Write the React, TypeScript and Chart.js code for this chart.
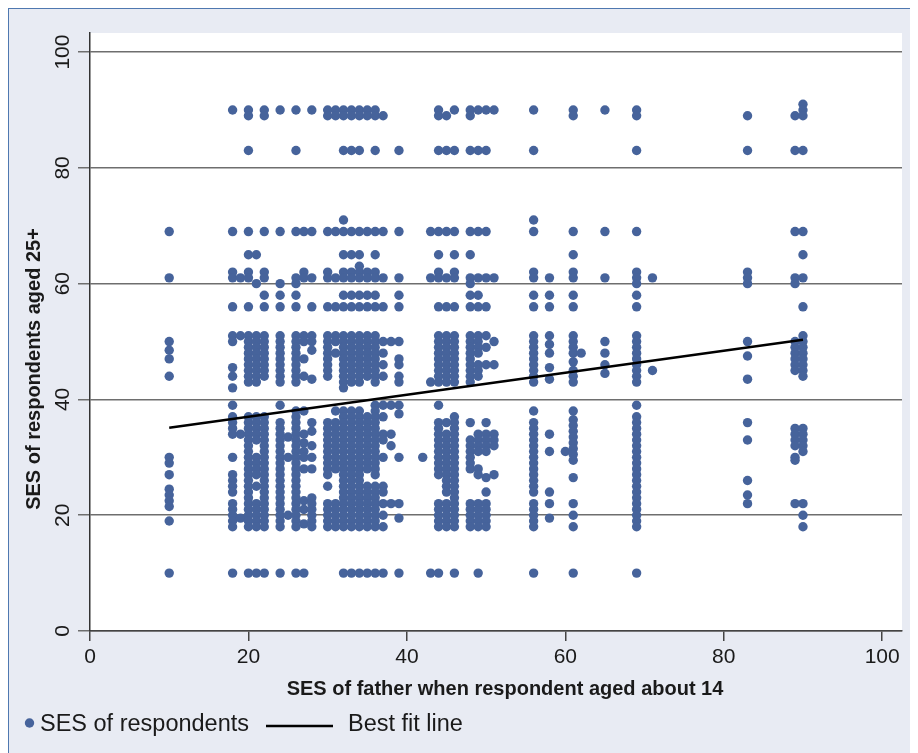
import React, { useEffect, useRef } from "react";
import { Chart, registerables } from "chart.js";

Chart.register(...registerables);

// ---- data ----
const xTicks = [0, 20, 40, 60, 80, 100];
const yTicks = [0, 20, 40, 60, 80, 100];

const xTitle = "SES of father when respondent aged about 14";
const yTitle = "SES of respondents aged 25+";
const legendLabels = ["SES of respondents", "Best fit line"];

// father's SES (x) for each column of points
const fatherSES = [10, 18, 19, 20, 21, 22, 24, 25, 26, 27, 28, 30, 31, 32, 33, 34, 35, 36, 37, 38, 39, 42, 43, 44, 45, 46, 48, 49, 50, 51, 56, 58, 60, 61, 62, 65, 69, 71, 83, 89, 90];

// respondent's SES (y) values observed in each column
const respondentSES = [
  [69, 61, 50, 48.5, 47, 44, 30, 29, 27, 24.5, 23.5, 22.5, 21.5, 19, 10],
  [90, 69, 62, 61, 56, 51, 50, 45.5, 44, 42, 39, 37, 36, 35, 34, 30, 27, 26, 25, 24, 22, 21, 20, 19, 18, 10],
  [61, 51, 34, 19.5],
  [90, 89, 83, 69, 65, 62, 61, 56, 51, 50, 49, 48, 47, 46, 45, 44, 43, 37, 36, 35, 34, 33, 32, 31, 30, 29, 28, 27, 26, 25, 24, 23, 22, 21, 20, 19, 18, 10],
  [65, 60, 51, 50, 49, 48, 47, 46, 45, 44, 43, 37, 36, 35, 34, 33, 30, 29, 28, 27, 25, 22, 21, 20, 19, 18, 10],
  [90, 89, 69, 62, 61, 58, 56, 51, 50, 49, 48, 47, 46, 45, 44, 37, 36, 35, 34, 33, 32, 31, 30, 29, 28, 27, 26, 25, 24, 23, 22, 21, 20, 19, 18, 10],
  [90, 69, 60, 58, 56, 51, 50, 49, 48, 47, 46, 45, 44, 43, 39, 36, 35, 34, 33, 32, 31, 30, 29, 28, 27, 26, 25, 24, 23, 22, 21, 20, 19, 18, 10],
  [33.5, 30, 20],
  [90, 83, 69, 61, 60, 58, 56, 51, 50, 49, 48, 47, 46, 45, 44, 43, 38, 37, 36, 35, 34, 33, 32, 31, 30, 29, 28, 27, 26, 25, 24, 23, 22, 21, 20, 19, 18, 10],
  [69, 62, 61, 51, 50, 47, 44, 38, 34, 32.5, 31, 30, 28, 22.5, 21, 18.5, 10],
  [90, 69, 61, 56, 51, 50, 48.5, 43.5, 36, 34.5, 32, 30, 28, 23, 22, 21, 20, 19, 18],
  [90, 89, 69, 62, 61, 56, 51, 50, 49, 48, 47, 46, 45, 44, 36, 35, 34, 33, 32, 31, 30, 29, 28, 27, 25, 22, 21, 20, 19, 18],
  [90, 89, 69, 61, 56, 51, 50, 48, 38, 36, 35, 34, 33, 32, 31, 30, 29, 28, 22, 21, 20, 19, 18],
  [90, 89, 83, 71, 69, 65, 62, 61, 58, 56, 51, 50, 49, 48, 47, 46, 45, 44, 43, 42, 38, 37, 36, 35, 34, 33, 32, 31, 30, 29, 28, 27, 26, 25, 24, 23, 22, 21, 20, 19, 18, 10],
  [90, 89, 83, 69, 65, 62, 61, 58, 56, 51, 50, 49, 48, 47, 46, 45, 44, 43, 38, 37, 36, 35, 34, 33, 32, 31, 30, 29, 28, 27, 26, 25, 24, 23, 22, 21, 20, 19, 18, 10],
  [90, 89, 83, 69, 65, 63, 62, 61, 58, 56, 51, 50, 49, 48, 47, 46, 45, 44, 43, 38, 37, 36, 35, 34, 33, 32, 31, 30, 29, 28, 27, 26, 25, 24, 23, 22, 21, 20, 19, 18, 10],
  [90, 89, 69, 62, 61, 58, 56, 51, 50, 49, 48, 47, 46, 45, 44, 37, 36, 35, 34, 33, 32, 31, 30, 29, 28, 25, 24, 23, 22, 21, 20, 19, 18, 10],
  [90, 89, 83, 69, 65, 62, 61, 58, 56, 51, 50, 49, 48, 47, 46, 45, 44, 43, 39, 38, 37, 36, 35, 34, 33, 32, 31, 30, 29, 28, 27, 25, 24, 23, 22, 21, 20, 19, 18, 10],
  [89, 69, 61, 56, 50, 48, 46, 44, 39, 37, 34, 33, 30, 25, 24, 22, 20, 18, 10],
  [50, 39, 34, 32, 22],
  [83, 69, 61, 58, 56, 50, 47, 46, 44, 43, 39, 37.5, 30, 22, 19.5, 10],
  [30],
  [69, 61, 43, 10],
  [90, 89, 83, 69, 65, 62, 61, 56, 51, 50, 49, 48, 47, 46, 45, 44, 43, 39, 36, 35, 34, 33, 32, 31, 30, 29, 28, 27, 22, 21, 20, 19, 18, 10],
  [89, 83, 69, 61, 56, 51, 50, 49, 48, 47, 46, 45, 44, 43, 36, 34, 33, 32, 31, 30, 29, 28, 27, 26, 25, 24, 22, 21, 20, 19, 18],
  [90, 83, 69, 65, 62, 61, 56, 51, 50, 49, 48, 47, 46, 45, 44, 43, 37, 36, 35, 34, 33, 32, 31, 30, 29, 28, 27, 26, 25, 24, 23, 22, 21, 20, 19, 18, 10],
  [90, 89, 83, 69, 65, 61, 60, 58, 56, 51, 50, 49, 48, 47, 46, 45, 44, 43, 36, 33, 32, 31, 30, 29, 28, 22, 21, 20, 19, 18],
  [90, 83, 69, 61, 58, 56, 51, 50, 49, 48, 46, 45, 44, 34, 33, 32, 31, 28, 27, 22, 21, 20, 19, 18, 10],
  [90, 83, 69, 61, 56, 51, 49, 46, 36, 34, 33, 32, 31, 26.5, 24, 22, 21, 20, 19, 18],
  [90, 61, 50, 46, 34, 33, 32, 27],
  [90, 83, 71, 69, 62, 61, 58, 56, 51, 50, 49, 48, 47, 46, 45, 44, 43, 38, 36, 35, 34, 33, 32, 31, 30, 29, 28, 27, 26, 25, 24, 22, 21, 20, 19, 18, 10],
  [61, 58, 56, 51, 49.5, 48, 45.5, 43.5, 34, 31, 24, 22, 19.5],
  [31],
  [90, 89, 69, 65, 62, 61, 58, 56, 51, 50, 49, 48, 46.5, 45, 44, 43, 38, 36.5, 35.5, 34.5, 33.5, 32.5, 31.5, 30.5, 29.5, 26.5, 22, 20, 18, 10],
  [48],
  [90, 69, 61, 50, 48, 46, 44.5],
  [90, 89, 83, 69, 62, 61, 60, 58, 56, 51, 50, 49, 48, 47, 46, 45, 44, 43, 39, 37, 36, 35, 34, 33, 32, 31, 30, 29, 28, 27, 26, 25, 24, 23, 22, 21, 20, 19, 18, 10],
  [61, 45],
  [89, 83, 62, 61, 60, 50, 47.5, 43.5, 36, 33, 26, 23.5, 22],
  [89, 83, 69, 61, 60, 50, 49, 48, 47, 46, 45, 35, 34, 33, 32, 30, 29.5, 22],
  [91, 90, 89, 83, 69, 65, 61, 56, 51, 50, 49, 48, 47, 46, 45, 44, 35, 34, 33, 32, 31, 22, 20, 18],
];

// best fit line end points
const fitX = [10, 90];
const fitY = [35.1, 50.3];

// ---- styles ----
const FONT = "'Liberation Sans', Arial, sans-serif";
const POINT_COLOR = "#46639b";
const TEXT_COLOR = "#1a1a1a";

const decorPlugin = {
  id: "decor",
  beforeDraw(chart: any) {
    const { ctx, chartArea: a } = chart;
    ctx.save();
    ctx.fillStyle = "#ffffff";
    ctx.fillRect(a.left, a.top, a.right - a.left, a.bottom - a.top);
    ctx.restore();
  },
  afterDraw(chart: any) {
    const { ctx } = chart;
    ctx.save();
    ctx.fillStyle = TEXT_COLOR;
    // x title
    ctx.font = `bold 20px ${FONT}`;
    ctx.textAlign = "center";
    ctx.textBaseline = "alphabetic";
    ctx.fillText(xTitle, 496, 686);
    // y title
    ctx.save();
    ctx.translate(31, 360);
    ctx.rotate(-Math.PI / 2);
    ctx.fillText(yTitle, 0, 0);
    ctx.restore();
    // legend
    ctx.fillStyle = POINT_COLOR;
    ctx.beginPath();
    ctx.arc(20.5, 714, 4.7, 0, Math.PI * 2);
    ctx.fill();
    ctx.fillStyle = TEXT_COLOR;
    ctx.font = `23.5px ${FONT}`;
    ctx.textAlign = "left";
    ctx.fillText(legendLabels[0], 31, 722);
    ctx.strokeStyle = "#000";
    ctx.lineWidth = 2.5;
    ctx.beginPath();
    ctx.moveTo(257, 717);
    ctx.lineTo(324, 717);
    ctx.stroke();
    ctx.fillText(legendLabels[1], 339, 722);
    ctx.restore();
  },
};

export default function App() {
  const canvasRef = useRef<HTMLCanvasElement | null>(null);

  useEffect(() => {
    if (!canvasRef.current) return;
    const points = fatherSES.flatMap((x, i) => respondentSES[i].map((y) => ({ x, y })));
    const fit = fitX.map((x, i) => ({ x, y: fitY[i] }));

    const chart = new Chart(canvasRef.current, {
      type: "scatter",
      data: {
        datasets: [
          {
            type: "line",
            label: legendLabels[1],
            data: fit,
            borderColor: "#000",
            borderWidth: 2.5,
            pointRadius: 0,
            fill: false,
            order: 0,
          } as any,
          {
            type: "scatter",
            label: legendLabels[0],
            data: points,
            backgroundColor: POINT_COLOR,
            borderWidth: 0,
            pointRadius: 4.7,
            order: 1,
          },
        ],
      },
      options: {
        animation: false,
        responsive: false,
        maintainAspectRatio: false,
        layout: { padding: { top: 24, right: 16, left: 0, bottom: 0 } },
        plugins: {
          legend: { display: false },
          tooltip: { enabled: false },
        },
        scales: {
          x: {
            type: "linear",
            position: "bottom",
            min: 0,
            max: 102.5,
            afterBuildTicks: (s: any) => {
              s.ticks = xTicks.map((v) => ({ value: v }));
            },
            afterFit: (s: any) => {
              s.height = 122;
              s.paddingLeft = 0;
              s.paddingRight = 0;
            },
            grid: {
              drawOnChartArea: false,
              drawTicks: true,
              tickLength: 10,
              color: "#444",
              lineWidth: 1.5,
            },
            border: { color: "#444", width: 1.5 },
            ticks: {
              padding: 4,
              maxRotation: 0,
              minRotation: 0,
              color: TEXT_COLOR,
              font: { family: FONT, size: 21 },
            },
          },
          y: {
            type: "linear",
            position: "left",
            min: 0,
            max: 103.3,
            afterBuildTicks: (s: any) => {
              s.ticks = yTicks.map((v) => ({ value: v }));
            },
            afterFit: (s: any) => {
              s.width = 81;
              s.paddingTop = 0;
              s.paddingBottom = 0;
            },
            grid: {
              drawOnChartArea: true,
              drawTicks: true,
              tickLength: 12,
              color: "#6e6e6e",
              lineWidth: 1.5,
            },
            border: { color: "#333", width: 1.5 },
            ticks: {
              minRotation: 90,
              maxRotation: 90,
              crossAlign: "center",
              padding: -3,
              color: TEXT_COLOR,
              font: { family: FONT, size: 21 },
            },
          },
        },
      },
      plugins: [decorPlugin],
    });

    return () => chart.destroy();
  }, []);

  return (
    <div
      style={{
        width: 910,
        height: 745,
        boxSizing: "border-box",
        background: "#e8ebf3",
        borderTop: "1px solid #4f78b0",
        borderLeft: "1px solid #4f78b0",
      }}
    >
      <canvas ref={canvasRef} width={909} height={744} style={{ display: "block", width: 909, height: 744 }} />
    </div>
  );
}
